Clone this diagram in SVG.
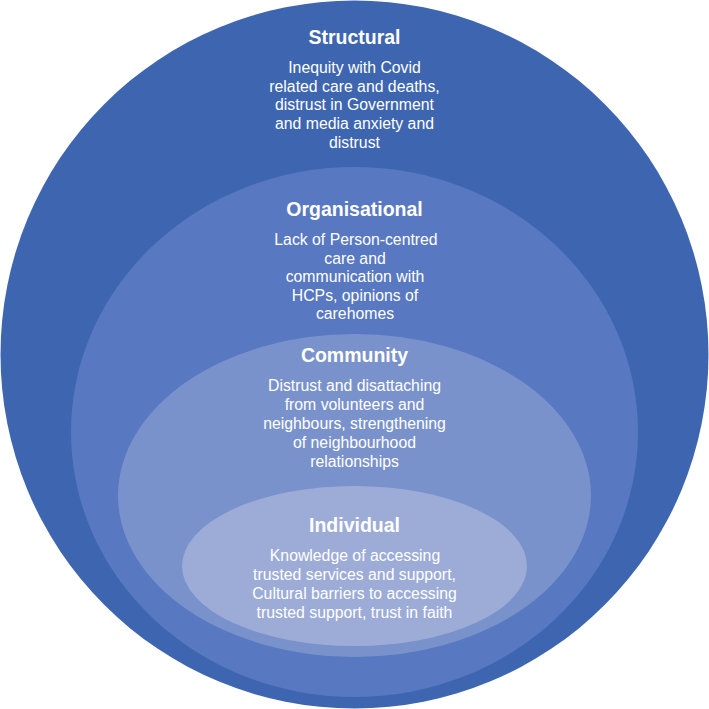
<svg xmlns="http://www.w3.org/2000/svg" width="709" height="709" viewBox="0 0 709 709">
<style>
text{font-family:"Liberation Sans",Arial,sans-serif;fill:#ffffff;text-anchor:middle}
.t{font-size:19.5px;font-weight:bold}
.b{font-size:15.8px}
</style>
<rect width="709" height="709" fill="#ffffff"/>
<g id="structural">
<circle cx="354.5" cy="354.5" r="354" fill="#3e66b0"/>
<text class="t" x="354.5" y="44">Structural</text>
<text class="b" x="354.5" y="73">Inequity with Covid</text>
<text class="b" x="354.5" y="91.5">related care and deaths,</text>
<text class="b" x="354.5" y="110">distrust in Government</text>
<text class="b" x="354.5" y="128.5">and media anxiety and</text>
<text class="b" x="354.5" y="147.5">distrust</text>
</g>
<g id="organisational">
<ellipse cx="354.5" cy="432" rx="283.5" ry="265" fill="#5878c2"/>
<text class="t" x="354.5" y="215.5">Organisational</text>
<text class="b" x="356" y="245">Lack of Person-centred</text>
<text class="b" x="355" y="263.5">care and</text>
<text class="b" x="355" y="282">communication with</text>
<text class="b" x="355" y="300.5">HCPs, opinions of</text>
<text class="b" x="355" y="319">carehomes</text>
</g>
<g id="community">
<ellipse cx="354.5" cy="495.5" rx="236.5" ry="161.5" fill="#7a92cb"/>
<text class="t" x="354.5" y="362">Community</text>
<text class="b" x="354.5" y="391">Distrust and disattaching</text>
<text class="b" x="354.5" y="410">from volunteers and</text>
<text class="b" x="354.5" y="429">neighbours, strengthening</text>
<text class="b" x="354.5" y="448">of neighbourhood</text>
<text class="b" x="354.5" y="467">relationships</text>
</g>
<g id="individual">
<ellipse cx="354.5" cy="566" rx="172.5" ry="80" fill="#9dacd7"/>
<text class="t" x="354.5" y="531.5">Individual</text>
<text class="b" x="355" y="561">Knowledge of accessing</text>
<text class="b" x="354.5" y="580">trusted services and support,</text>
<text class="b" x="354.5" y="599">Cultural barriers to accessing</text>
<text class="b" x="354.5" y="618">trusted support, trust in faith</text>
</g>
</svg>
